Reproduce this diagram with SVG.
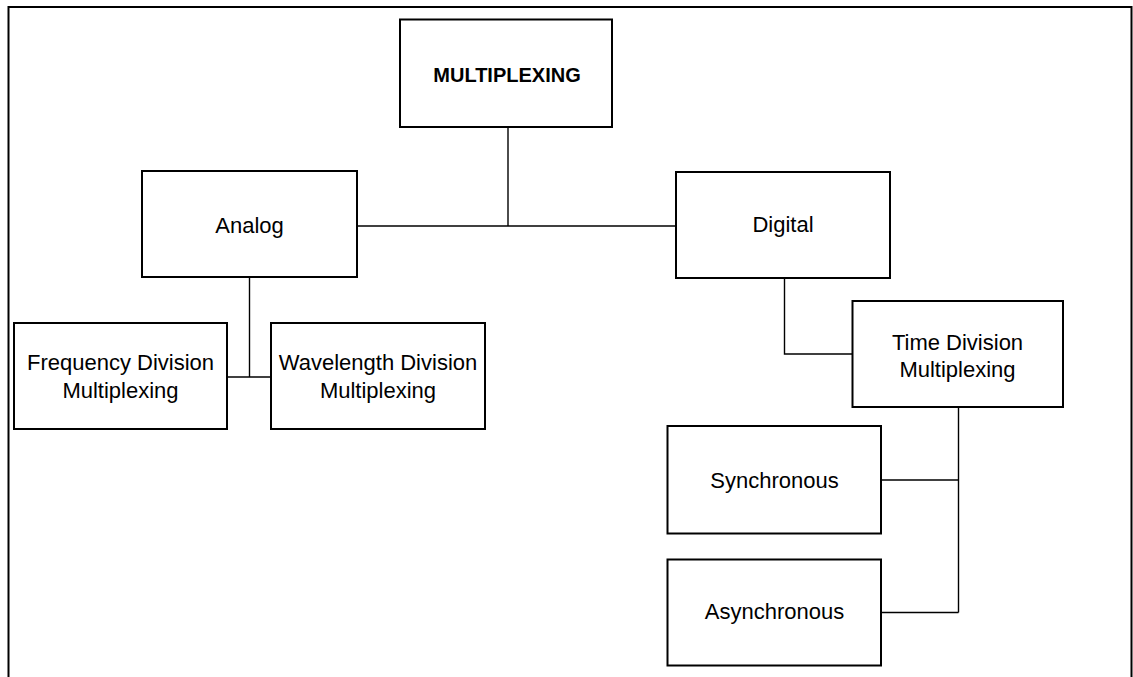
<svg xmlns="http://www.w3.org/2000/svg" width="1133" height="677" viewBox="0 0 1133 677">
  <style>
    .box { fill: #ffffff; stroke: #000000; stroke-width: 2; }
    .frame { fill: none; stroke: #000000; stroke-width: 2; }
    .link { fill: none; stroke: #000000; stroke-width: 1.4; }
    .label { font-family: "Liberation Sans", Arial, sans-serif; font-size: 22px; fill: #000000; text-anchor: middle; }
    .title { font-family: "Liberation Sans", Arial, sans-serif; font-size: 20px; font-weight: bold; fill: #000000; text-anchor: middle; }
  </style>
  <rect width="1133" height="677" fill="#ffffff"/>
  <!-- outer frame, open at the bottom -->
  <path class="frame" d="M8.5,677 V7 H1131.5 V677"/>

  <!-- connectors -->
  <g id="connectors">
    <path class="link" d="M508,127 V226"/>
    <path class="link" d="M357,226 H676"/>
    <path class="link" d="M249.5,277 V377"/>
    <path class="link" d="M227,377 H271"/>
    <path class="link" d="M784.5,278 V354 H852"/>
    <path class="link" d="M958.5,407 V612.5"/>
    <path class="link" d="M881,480 H958.5"/>
    <path class="link" d="M881,612.5 H958.5"/>
  </g>

  <g id="node-multiplexing">
    <rect class="box" x="400" y="19.5" width="212" height="107.5"/>
    <text class="title" x="507" y="81.5">MULTIPLEXING</text>
  </g>

  <g id="node-analog">
    <rect class="box" x="142" y="171" width="215" height="106"/>
    <text class="label" x="249.5" y="232.5">Analog</text>
  </g>

  <g id="node-digital">
    <rect class="box" x="676" y="172" width="214" height="106"/>
    <text class="label" x="783" y="232">Digital</text>
  </g>

  <g id="node-fdm">
    <rect class="box" x="14" y="323" width="213" height="106"/>
    <text class="label" x="120.5" y="370">Frequency Division</text>
    <text class="label" x="120.5" y="397.5">Multiplexing</text>
  </g>

  <g id="node-wdm">
    <rect class="box" x="271" y="323" width="214" height="106"/>
    <text class="label" x="378" y="370">Wavelength Division</text>
    <text class="label" x="378" y="397.5">Multiplexing</text>
  </g>

  <g id="node-tdm">
    <rect class="box" x="852.5" y="301" width="210.5" height="106"/>
    <text class="label" x="957.5" y="350">Time Division</text>
    <text class="label" x="957.5" y="376.5">Multiplexing</text>
  </g>

  <g id="node-synchronous">
    <rect class="box" x="667.5" y="426" width="213.5" height="107.5"/>
    <text class="label" x="774.5" y="487.5">Synchronous</text>
  </g>

  <g id="node-asynchronous">
    <rect class="box" x="667.5" y="559.5" width="213.5" height="106"/>
    <text class="label" x="774.5" y="619">Asynchronous</text>
  </g>
</svg>
